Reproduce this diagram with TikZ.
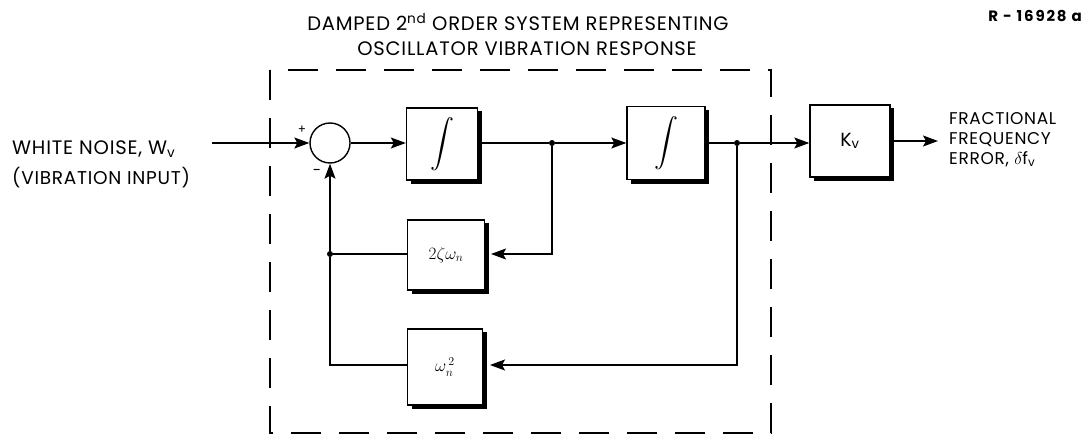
\documentclass[tikz,border=0pt]{standalone}
\usepackage{fontspec}
\usepackage{graphicx}
\setmainfont{Poppins}[LetterSpace=4]
\usetikzlibrary{arrows.meta}
\begin{document}
\begin{tikzpicture}[x=1pt,y=-1pt,
  font=\fontsize{19}{22}\selectfont,
  blk/.style={draw,line width=1.4pt,inner sep=0pt},
  arr/.style={line width=1.1pt,-{Stealth[length=15pt,width=11pt,inset=3pt]}},
  ln/.style={line width=1.1pt},
  jdot/.style={circle,fill,inner sep=0pt,minimum size=6pt},
  frame/.style={line width=2.6pt,dash pattern=on 30pt off 18pt},
  lbl/.style={inner sep=0pt}]
\useasboundingbox (0,0) rectangle (1086,438);
\newcommand\boxshadow[1]{\draw[line width=3.5pt] ([xshift=2pt,yshift=-4pt]#1.north east) -- ([xshift=2pt,yshift=-2pt]#1.south east) -- ([xshift=5pt,yshift=-2pt]#1.south west);}
% frame
\draw[frame] (270,70) rectangle (771,433);
% title
\node[lbl,font=\fontsize{19.5}{22}\selectfont] (t1) at (518,22) {DAMPED 2\textsuperscript{nd} ORDER SYSTEM REPRESENTING};
\node[lbl,font=\fontsize{19.5}{22}\selectfont] (t2) at (527,49) {OSCILLATOR VIBRATION RESPONSE};
\node[lbl,anchor=east,font=\fontsize{15}{16}\selectfont\bfseries\addfontfeatures{LetterSpace=12}] (rn) at (1082,16) {R - 16928 a};
% blocks
\node[circle,draw,line width=1.4pt,minimum size=40pt,inner sep=0pt] (sum) at (330,143) {};
\node[blk,minimum width=71pt,minimum height=72pt] (int1) at (442,144) {\scalebox{2.4}{$\displaystyle\int$}};
\node[blk,minimum width=78pt,minimum height=73pt] (int2) at (666,143) {\scalebox{2.4}{$\displaystyle\int$}};
\node[blk,minimum width=80pt,minimum height=72pt] (kv) at (850,141) {K\textsubscript{v}};
\node[blk,minimum width=77pt,minimum height=70pt,font=\fontsize{17}{20}\selectfont] (damp) at (446,255) {$2\zeta\omega_n$};
\node[blk,minimum width=75pt,minimum height=76pt,font=\fontsize{17}{20}\selectfont] (omg) at (445,367) {$\omega_n^{\,2}$};
\boxshadow{int1}
\boxshadow{int2}
\boxshadow{kv}
\boxshadow{damp}
\boxshadow{omg}
% signs
\node[lbl,font=\fontsize{12}{12}\selectfont] (plus) at (302,130) {+};
\node[lbl,font=\fontsize{15}{15}\selectfont] (minus) at (317,172) {-};
% junctions
\node[jdot] (j1) at (552,143) {};
\node[jdot] (j2) at (737,143) {};
\node[jdot] (j3) at (330,254) {};
\coordinate (in) at (212,143);
\coordinate (out) at (938,141);
\coordinate (c1) at (491,254);
\coordinate (c2) at (490,365);
% connectors
\draw[arr] (in) -- (sum.west);
\draw[arr] (sum.east) -- (int1.west |- sum.east);
\draw[ln] (int1.east |- j1) -- (j1);
\draw[arr] (j1) -- (int2.west |- j1);
\draw[ln] (int2.east |- j2) -- (j2);
\draw[arr] (j2) -- (kv.west |- j2);
\draw[arr] (kv.east) -- (out);
\draw[arr] (j1) |- (c1);
\draw[ln] (damp.west |- j3) -- (j3);
\draw[arr] (j3) -- (sum.south);
\draw[arr] (j2) |- (c2);
\draw[ln] (omg.west |- c2) -| (j3);
% texts
\node[lbl,anchor=west,font=\fontsize{19.5}{22}\selectfont] (wn) at (12,149) {WHITE NOISE, W\textsubscript{v}};
\node[lbl,anchor=west,font=\fontsize{18.5}{22}\selectfont] (vi) at (12,178) {(VIBRATION INPUT)};
\node[lbl,anchor=north west,align=left,font=\fontsize{17}{20}\selectfont] (fe) at (949,112) {FRACTIONAL\\FREQUENCY\\ERROR, $\delta$f\textsubscript{v}};
\end{tikzpicture}
\end{document}
